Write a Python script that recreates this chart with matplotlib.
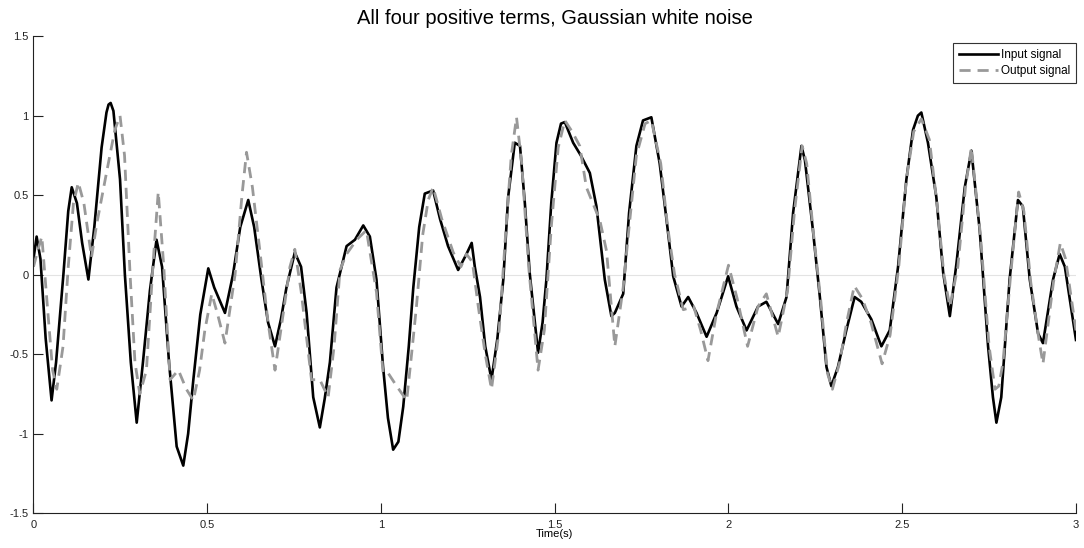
import matplotlib
matplotlib.use("Agg")
import matplotlib.pyplot as plt

plt.rcParams["font.family"] = ["Liberation Sans", "DejaVu Sans"]

# input signal (black)
t_in = [0.000, 0.009, 0.020, 0.035, 0.052, 0.065, 0.086, 0.100, 0.110, 0.125, 0.140, 0.158, 0.175, 0.196, 0.210,
        0.216, 0.222, 0.230, 0.249, 0.263, 0.280, 0.297, 0.315, 0.335, 0.354, 0.370, 0.390, 0.412, 0.431, 0.445,
        0.460, 0.480, 0.503, 0.520, 0.551, 0.574, 0.595, 0.618, 0.635, 0.656, 0.675, 0.695, 0.712, 0.728, 0.752,
        0.770, 0.786, 0.805, 0.824, 0.838, 0.853, 0.872, 0.901, 0.925, 0.949, 0.968, 0.987, 1.006, 1.020, 1.035,
        1.050, 1.064, 1.080, 1.093, 1.110, 1.126, 1.150, 1.170, 1.193, 1.222, 1.246, 1.261, 1.270, 1.285, 1.300,
        1.318, 1.335, 1.352, 1.366, 1.385, 1.400, 1.414, 1.428, 1.452, 1.465, 1.476, 1.490, 1.505, 1.518, 1.529,
        1.553, 1.575, 1.601, 1.620, 1.644, 1.663, 1.673, 1.697, 1.714, 1.735, 1.754, 1.766, 1.778, 1.802, 1.822,
        1.841, 1.865, 1.884, 1.908, 1.937, 1.966, 1.999, 2.023, 2.052, 2.085, 2.109, 2.143, 2.167, 2.186, 2.210,
        2.220, 2.243, 2.263, 2.282, 2.296, 2.315, 2.339, 2.363, 2.382, 2.411, 2.440, 2.464, 2.488, 2.512, 2.531,
        2.545, 2.555, 2.574, 2.598, 2.618, 2.637, 2.656, 2.680, 2.699, 2.723, 2.747, 2.761, 2.771, 2.785, 2.809,
        2.833, 2.847, 2.867, 2.891, 2.905, 2.934, 2.953, 2.968, 3.000]
y_in = [0.10, 0.24, 0.10, -0.40, -0.79, -0.55, 0.00, 0.40, 0.55, 0.45, 0.20, -0.03, 0.30, 0.80, 1.02,
        1.07, 1.08, 1.03, 0.60, 0.00, -0.55, -0.93, -0.55, -0.10, 0.22, 0.05, -0.55, -1.08, -1.20, -1.00,
        -0.66, -0.25, 0.04, -0.08, -0.24, 0.00, 0.30, 0.47, 0.30, -0.03, -0.30, -0.45, -0.28, -0.08, 0.14,
        0.05, -0.24, -0.77, -0.96, -0.78, -0.55, -0.08, 0.18, 0.22, 0.31, 0.24, -0.03, -0.58, -0.90, -1.10,
        -1.05, -0.83, -0.45, -0.08, 0.30, 0.51, 0.53, 0.35, 0.18, 0.03, 0.13, 0.20, 0.05, -0.14, -0.45,
        -0.66, -0.40, -0.03, 0.49, 0.83, 0.81, 0.45, 0.01, -0.49, -0.30, -0.03, 0.45, 0.83, 0.95, 0.96,
        0.83, 0.75, 0.64, 0.43, -0.03, -0.26, -0.24, -0.12, 0.39, 0.81, 0.97, 0.98, 0.99, 0.70, 0.34,
        -0.01, -0.20, -0.14, -0.24, -0.39, -0.24, -0.01, -0.20, -0.35, -0.20, -0.17, -0.31, -0.14, 0.39, 0.81,
        0.72, 0.28, -0.14, -0.58, -0.70, -0.58, -0.35, -0.14, -0.17, -0.28, -0.45, -0.35, 0.05, 0.60, 0.91,
        1.00, 1.02, 0.83, 0.49, 0.01, -0.26, 0.07, 0.55, 0.78, 0.28, -0.45, -0.77, -0.93, -0.77, -0.03,
        0.47, 0.43, -0.03, -0.37, -0.43, -0.03, 0.13, 0.05, -0.41]

# output signal (grey, dashed)
t_out = [0.000, 0.012, 0.024, 0.040, 0.055, 0.067, 0.085, 0.100, 0.115, 0.129, 0.145, 0.167, 0.182, 0.210, 0.234,
         0.249, 0.262, 0.278, 0.292, 0.306, 0.325, 0.345, 0.359, 0.375, 0.393, 0.417, 0.440, 0.460, 0.478, 0.493,
         0.513, 0.530, 0.551, 0.580, 0.600, 0.613, 0.630, 0.652, 0.675, 0.695, 0.715, 0.738, 0.752, 0.770, 0.800,
         0.824, 0.848, 0.865, 0.882, 0.901, 0.930, 0.958, 0.987, 1.006, 1.021, 1.045, 1.074, 1.088, 1.102, 1.120,
         1.136, 1.150, 1.175, 1.208, 1.230, 1.246, 1.263, 1.280, 1.300, 1.318, 1.340, 1.360, 1.375, 1.390, 1.405,
         1.425, 1.452, 1.470, 1.490, 1.510, 1.529, 1.550, 1.572, 1.591, 1.630, 1.649, 1.673, 1.697, 1.714, 1.735,
         1.760, 1.778, 1.805, 1.825, 1.845, 1.870, 1.900, 1.920, 1.941, 1.965, 2.000, 2.025, 2.055, 2.085, 2.109,
         2.143, 2.170, 2.190, 2.212, 2.225, 2.245, 2.265, 2.285, 2.299, 2.320, 2.340, 2.362, 2.385, 2.410, 2.442,
         2.465, 2.490, 2.512, 2.533, 2.555, 2.578, 2.600, 2.620, 2.637, 2.660, 2.682, 2.699, 2.725, 2.750, 2.767,
         2.778, 2.790, 2.812, 2.835, 2.850, 2.870, 2.893, 2.905, 2.935, 2.955, 2.970, 3.000]
y_out = [0.05, 0.15, 0.24, -0.20, -0.60, -0.72, -0.45, 0.05, 0.45, 0.58, 0.45, 0.11, 0.32, 0.64, 0.91,
         1.00, 0.75, 0.00, -0.55, -0.75, -0.60, 0.10, 0.52, 0.05, -0.66, -0.60, -0.72, -0.79, -0.60, -0.35,
         -0.12, -0.25, -0.43, 0.00, 0.50, 0.77, 0.55, 0.14, -0.30, -0.60, -0.30, 0.05, 0.16, -0.10, -0.66,
         -0.66, -0.77, -0.45, 0.03, 0.13, 0.22, 0.28, -0.11, -0.62, -0.62, -0.70, -0.79, -0.50, -0.20, 0.25,
         0.47, 0.55, 0.35, 0.14, 0.05, 0.13, 0.08, -0.20, -0.50, -0.72, -0.35, 0.30, 0.75, 0.99, 0.70,
         0.05, -0.60, -0.35, 0.30, 0.80, 0.97, 0.90, 0.81, 0.55, 0.34, 0.15, -0.45, -0.08, 0.30, 0.75,
         0.95, 0.97, 0.70, 0.30, 0.00, -0.22, -0.20, -0.35, -0.54, -0.25, 0.06, -0.15, -0.45, -0.20, -0.12,
         -0.39, -0.10, 0.40, 0.81, 0.70, 0.25, -0.15, -0.62, -0.72, -0.55, -0.30, -0.07, -0.15, -0.30, -0.56,
         -0.38, 0.05, 0.60, 0.90, 0.98, 0.85, 0.45, 0.00, -0.20, 0.05, 0.55, 0.80, 0.25, -0.45, -0.72,
         -0.70, -0.55, 0.00, 0.52, 0.40, -0.05, -0.40, -0.56, -0.05, 0.20, 0.10, -0.35]

x_ticks = [0, 0.5, 1, 1.5, 2, 2.5, 3]
y_ticks = [-1.5, -1, -0.5, 0, 0.5, 1, 1.5]

fig = plt.figure(figsize=(10.84, 5.48), dpi=100)
ax = fig.add_axes([0.0309, 0.0633, 0.9617, 0.8707])

ax.axhline(0, color="#e3e3e3", linewidth=0.8, zorder=0)
ax.plot(t_in, y_in, color="black", linewidth=1.9, solid_joinstyle="round", label="Input signal")
ax.plot(t_out, y_out, color="#999999", linewidth=2.0, linestyle=(0, (4, 2.5)), label="Output signal")

ax.set_xlim(0, 3)
ax.set_ylim(-1.5, 1.5)
ax.set_xticks(x_ticks)
ax.set_xticklabels(["0", "0.5", "1", "1.5", "2", "2.5", "3"])
ax.set_yticks(y_ticks)
ax.set_yticklabels(["-1.5", "-1", "-0.5", "0", "0.5", "1", "1.5"])
ax.tick_params(direction="in", length=7, width=0.8, labelsize=8, colors="#222222")
ax.tick_params(axis="x", pad=5)
ax.spines["top"].set_visible(False)
ax.spines["right"].set_visible(False)
for s in ("left", "bottom"):
    ax.spines[s].set_linewidth(0.8)
    ax.spines[s].set_color("#222222")

ax.set_title("All four positive terms, Gaussian white noise", fontsize=14.5, pad=9)
ax.set_xlabel("Time(s)", fontsize=8, labelpad=-1)

leg = ax.legend(loc="upper right", fontsize=8.5, fancybox=False, framealpha=1,
                edgecolor="#333333", handlelength=3.3, handletextpad=0.25,
                borderpad=0.5, labelspacing=0.3, borderaxespad=0,
                bbox_to_anchor=(1.0, 0.985))
leg.get_frame().set_linewidth(0.8)

fig.savefig("out.png", dpi=100)
